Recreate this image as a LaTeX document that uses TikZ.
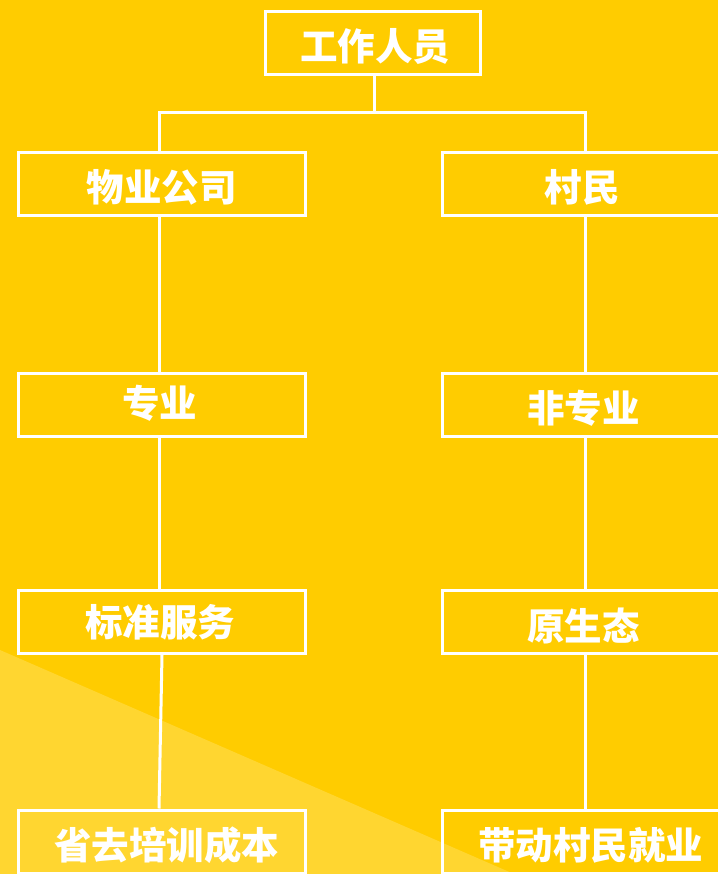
\documentclass[tikz,border=0pt]{standalone}
\usepackage{fontspec}
\newfontfamily\cjk{Noto Sans CJK SC}
\newcommand{\tx}[3]{\hspace{#1}\raisebox{#2}{#3}}
\begin{document}
\begin{tikzpicture}[x=1pt,y=-1pt,
  box/.style={draw=white, line width=3pt, minimum width=287pt, minimum height=63pt, inner sep=0pt,
    text height=36pt, text depth=1pt,
    text=white, font=\cjk\bfseries\fontsize{37.5}{42}\selectfont},
  conn/.style={draw=white, line width=3pt}]
\clip (0,0) rectangle (718,874);
\fill[fill={rgb,255:red,255;green,204;blue,0}] (0,0) rectangle (718,874);
\fill[fill={rgb,255:red,255;green,214;blue,48}] (0,650) -- (514,874) -- (0,874) -- cycle;
\node[box, minimum width=215pt] (top) at (372.5,43.5) {\tx{5pt}{0pt}{工作人员}};
\node[box] (wy) at (161.5,184.5) {物业公司};
\node[box] (cm) at (585.5,184.5) {\tx{-7pt}{0pt}{村民}};
\node[box] (zy) at (161.5,404.5) {\tx{-4pt}{4.5pt}{专业}};
\node[box] (fzy) at (585.5,404.5) {\tx{-4pt}{0pt}{非专业}};
\node[box] (bz) at (161.5,622) {\tx{-3pt}{3.5pt}{标准服务}};
\node[box] (ys) at (585.5,622) {\tx{-4pt}{-1pt}{原生态}};
\node[box] (sq) at (161.5,841.5) {\tx{10pt}{0pt}{省去培训成本}};
\node[box] (dd) at (585.5,841.5) {\tx{10pt}{0pt}{带动村民就业}};
\coordinate (bus) at (375,113);
\draw[conn] ([xshift=2pt]top.south) -- ([xshift=2pt]top.south |- bus);
\draw[conn] ([xshift=-2.5pt]wy.north) -- ([xshift=-2.5pt]wy.north |- bus) -- ([xshift=-0.5pt]cm.north |- bus) -- ([xshift=-0.5pt]cm.north);
\draw[conn] ([xshift=-2.5pt]wy.south) -- ([xshift=-2.5pt]zy.north);
\draw[conn] ([xshift=-2.5pt]zy.south) -- ([xshift=-2.5pt]bz.north);
\draw[conn] ([xshift=0.5pt]bz.south) -- ([xshift=-2.5pt]sq.north);
\draw[conn] ([xshift=-0.5pt]cm.south) -- ([xshift=-0.5pt]fzy.north);
\draw[conn] ([xshift=-0.5pt]fzy.south) -- ([xshift=-0.5pt]ys.north);
\draw[conn] ([xshift=-0.5pt]ys.south) -- ([xshift=-0.5pt]dd.north);
\end{tikzpicture}
\end{document}
